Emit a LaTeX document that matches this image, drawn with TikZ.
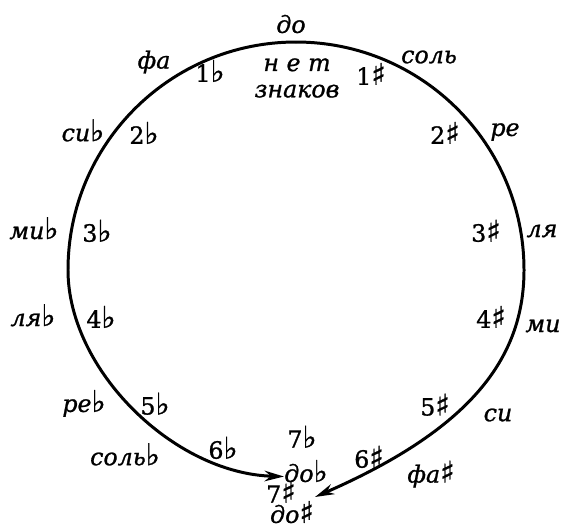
\documentclass[tikz,border=0pt]{standalone}
\usepackage{fontspec}
\setmainfont{DejaVu Serif}
\newfontfamily\hand{DejaVu Serif}[FakeBold=1]
\newfontfamily\musfont{DejaVu Sans}[FakeBold=1]
\newcommand{\bemol}{\raisebox{0pt}[0pt][0pt]{\musfont\fontsize{17}{17}\selectfont\char"266D}}
\newcommand{\diez}{\raisebox{0pt}[0pt][0pt]{\musfont\fontsize{17}{17}\selectfont\char"266F}}
\usetikzlibrary{arrows.meta}
\tikzset{
	note/.style={font=\hand\itshape\fontsize{13.5}{15}\selectfont, inner sep=1pt},
	sig/.style={font=\hand\fontsize{13.5}{15}\selectfont, inner sep=1pt},
	arr/.style={-{Stealth[length=11pt, width=6pt]}, line width=1.7pt},
}

\begin{document}
\begin{tikzpicture}[x=0.02cm, y=-0.02cm]
	\useasboundingbox (0,0) rectangle (563,529);
	\node[note] (c) at (291,24) {до};
	\node[note, align=center] (none) at (297,78) {н е т\\знаков};
	\node[note] (f) at (154,62) {фа};
	\node[sig] (f1) at (210,73) {1\bemol};
	\node[note] (g) at (429,57) {соль};
	\node[sig] (g1) at (371,76) {1\diez};
	\node[note] (bb) at (83,135) {си\bemol};
	\node[sig] (bb2) at (144,135) {2\bemol};
	\node[note] (d) at (505,132) {ре};
	\node[sig] (d2) at (445,135) {2\diez};
	\node[note] (eb) at (34,233) {ми\bemol};
	\node[sig] (eb3) at (97,233) {3\bemol};
	\node[note] (a) at (542,231) {ля};
	\node[sig] (a3) at (486,233) {3\diez};
	\node[note] (ab) at (33,320) {ля\bemol};
	\node[sig] (ab4) at (101,319) {4\bemol};
	\node[note] (e) at (543,326) {ми};
	\node[sig] (e4) at (491,319) {4\diez};
	\node[note] (db) at (84,408) {ре\bemol};
	\node[sig] (db5) at (155,406) {5\bemol};
	\node[note] (b) at (498,415) {си};
	\node[sig] (b5) at (435,407) {5\diez};
	\node[note] (gb) at (125,459) {соль\bemol};
	\node[sig] (gb6) at (223,450) {6\bemol};
	\node[note] (fs) at (431,476) {фа\diez};
	\node[sig] (fs6) at (369,459) {6\diez};
	\node[sig] (cb7) at (302,439) {7\bemol};
	\node[note, inner sep=0pt] (cb) at (306,473) {до\bemol};
	\node[sig, inner sep=0pt] (cs7) at (281,494) {7\diez};
	\node[note, inner sep=0pt] (cs) at (292,514) {до\diez};
	\coordinate (top) at (296,42);
	\coordinate (tip) at (315,497);

	\draw[arr] (top) arc[start angle=-90, end angle=-180, radius=228]
		.. controls +(0,100) and +(-110,-3) .. ([yshift=-2pt]cb.west);
	\draw[arr] (top) arc[start angle=-90, end angle=0, radius=228]
		.. controls +(0,90) and +(153,-67) .. (tip);
\end{tikzpicture}
\end{document}
